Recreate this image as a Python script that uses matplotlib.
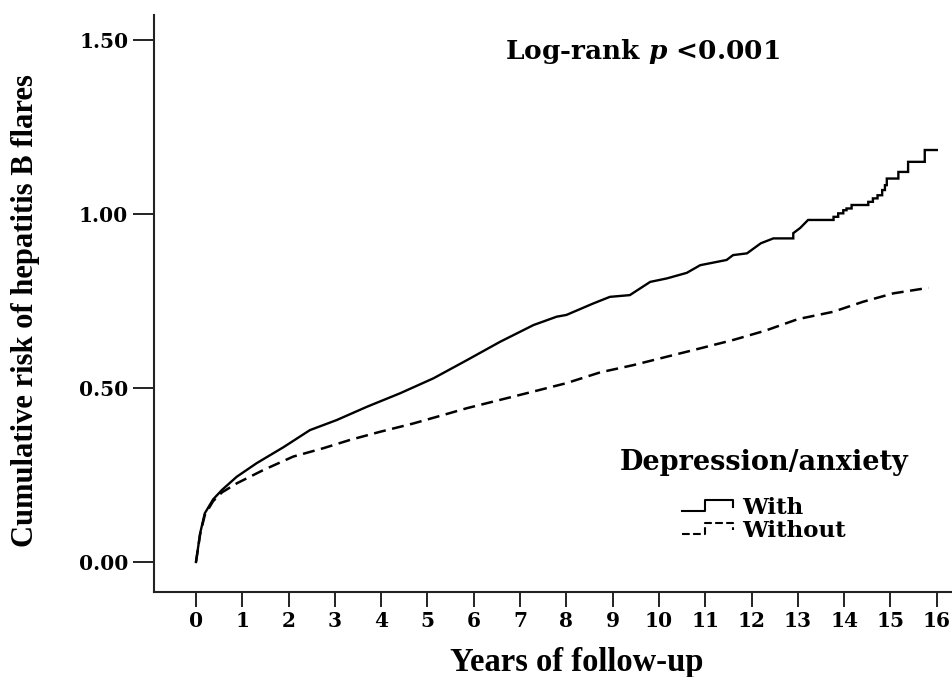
import matplotlib
matplotlib.use("Agg")
import matplotlib.pyplot as plt
from matplotlib.lines import Line2D
from matplotlib.legend_handler import HandlerBase

# ---- data ----
with_t = [0, 0.09, 0.19, 0.37, 0.56, 0.88, 1.31, 1.89, 2.46, 3.04, 3.69, 4.41,
          5.13, 5.85, 6.57, 7.29, 7.79, 8.0, 8.58, 8.94, 9.37, 9.81, 10.17, 10.6,
          10.89, 11.46, 11.6, 11.9, 12.2, 12.47, 12.9, 12.9, 13.05, 13.22, 13.77,
          13.77, 13.87, 13.87, 13.98, 13.98, 14.05, 14.05, 14.16, 14.16, 14.52,
          14.52, 14.62, 14.62, 14.72, 14.72, 14.82, 14.82, 14.88, 14.88, 14.92,
          14.92, 15.17, 15.17, 15.38, 15.38, 15.74, 15.74, 16.0]
with_v = [0, 0.083, 0.14, 0.18, 0.207, 0.245, 0.284, 0.33, 0.379, 0.408, 0.446,
          0.485, 0.528, 0.58, 0.633, 0.681, 0.705, 0.71, 0.743, 0.762, 0.767,
          0.805, 0.815, 0.831, 0.853, 0.868, 0.882, 0.887, 0.916, 0.93, 0.93,
          0.945, 0.96, 0.983, 0.983, 0.992, 0.992, 1.002, 1.002, 1.011, 1.011,
          1.016, 1.016, 1.026, 1.026, 1.035, 1.035, 1.045, 1.045, 1.054, 1.054,
          1.069, 1.069, 1.083, 1.083, 1.102, 1.102, 1.121, 1.121, 1.150, 1.150,
          1.184, 1.184]

without_t = [0, 0.09, 0.19, 0.37, 0.56, 0.88, 1.45, 2.1, 2.75, 3.33, 3.97, 4.69,
             5.38, 5.85, 6.57, 7.29, 8.0, 8.73, 9.45, 10.17, 10.89, 11.6, 12.3,
             13.0, 13.76, 14.41, 15.06, 15.82]
without_v = [0, 0.08, 0.135, 0.175, 0.2, 0.226, 0.264, 0.303, 0.327, 0.351,
             0.374, 0.398, 0.424, 0.442, 0.466, 0.49, 0.514, 0.545, 0.566, 0.59,
             0.614, 0.638, 0.665, 0.698, 0.719, 0.748, 0.772, 0.788]

x_ticks = list(range(0, 17))
y_ticks = [0.0, 0.5, 1.0, 1.5]
y_tick_labels = ["0.00", "0.50", "1.00", "1.50"]
series_labels = ["With", "Without"]
legend_title = "Depression/anxiety"

plt.rcParams['mathtext.fontset'] = 'custom'
plt.rcParams['mathtext.it'] = 'DejaVu Serif:italic:bold'
plt.rcParams['mathtext.rm'] = 'DejaVu Serif:bold'

W, H = 953, 677
fig = plt.figure(figsize=(W / 100, H / 100), dpi=100)
ax = fig.add_axes([154 / W, 1 - 592 / H, (W - 154) / W, (592 - 15) / H])

ax.plot(with_t, with_v, color='black', lw=1.7, solid_joinstyle='miter')
ax.plot(without_t, without_v, color='black', lw=1.8, linestyle=(0, (4.8, 2.6)))

ax.set_xlim(-0.907, 16.35)
ax.set_ylim(-0.0862, 1.572)
ax.set_xticks(x_ticks)
ax.set_yticks(y_ticks)
ax.set_yticklabels(y_tick_labels)

for s in ['top', 'right']:
    ax.spines[s].set_visible(False)
for s in ['left', 'bottom']:
    ax.spines[s].set_linewidth(1.5)
    ax.spines[s].set_color('#222222')

ax.tick_params(axis='y', length=15, width=1.4, pad=3.5, color='#222222')
ax.tick_params(axis='x', length=11, width=1.4, pad=2.5, color='#222222')
for lab in ax.get_xticklabels() + ax.get_yticklabels():
    lab.set_fontfamily('DejaVu Serif')
    lab.set_fontweight('bold')
    lab.set_fontsize(14.5)

ax.set_xlabel("Years of follow-up", family='Liberation Serif', weight='bold', fontsize=23.5)
ax.xaxis.label.set_va('center')
ax.xaxis.set_label_coords((577 - 154) / (W - 154), (592 - 662) / (592 - 15))
ax.set_ylabel("Cumulative risk of hepatitis B flares", family='Liberation Serif',
              weight='bold', fontsize=22)
ax.yaxis.label.set_va('center')
ax.yaxis.set_label_coords((25 - 154) / (W - 154), (592 - 311) / (592 - 15))

ax.text((642 - 154) / (W - 154), (592 - 52) / (592 - 15), r"Log-rank $p$ <0.001",
        transform=ax.transAxes, ha='center', va='center', family='DejaVu Serif',
        weight='bold', fontsize=19)


class StepHandler(HandlerBase):
    def create_artists(self, legend, orig_handle, xdescent, ydescent, width,
                       height, fontsize, trans):
        x0 = -xdescent
        y0 = -ydescent
        xs = [x0, x0 + 0.45 * width, x0 + 0.45 * width, x0 + width, x0 + width]
        ys = [y0 + 0.2 * height, y0 + 0.2 * height, y0 + 0.85 * height,
              y0 + 0.85 * height, y0 + 0.45 * height]
        ln = Line2D(xs, ys, color=orig_handle.get_color(),
                    lw=orig_handle.get_linewidth(),
                    linestyle=orig_handle.get_linestyle())
        ln.set_transform(trans)
        return [ln]


h1 = Line2D([], [], color='black', lw=1.5)
h2 = Line2D([], [], color='black', lw=1.5, linestyle=(0, (4, 5)))
leg = ax.legend([h1, h2], series_labels, title=legend_title,
                handler_map={Line2D: StepHandler()},
                loc='upper center', bbox_to_anchor=(764 / W, 1 - 449 / H),
                bbox_transform=fig.transFigure, frameon=False,
                prop={'family': 'DejaVu Serif', 'weight': 'bold', 'size': 16.5},
                title_fontproperties={'family': 'DejaVu Serif', 'weight': 'bold',
                                      'size': 19.5},
                handlelength=2.2, handletextpad=0.4, labelspacing=0.05,
                borderpad=0, borderaxespad=0)
leg._legend_box.sep = 15

fig.savefig("out.png", dpi=100)
